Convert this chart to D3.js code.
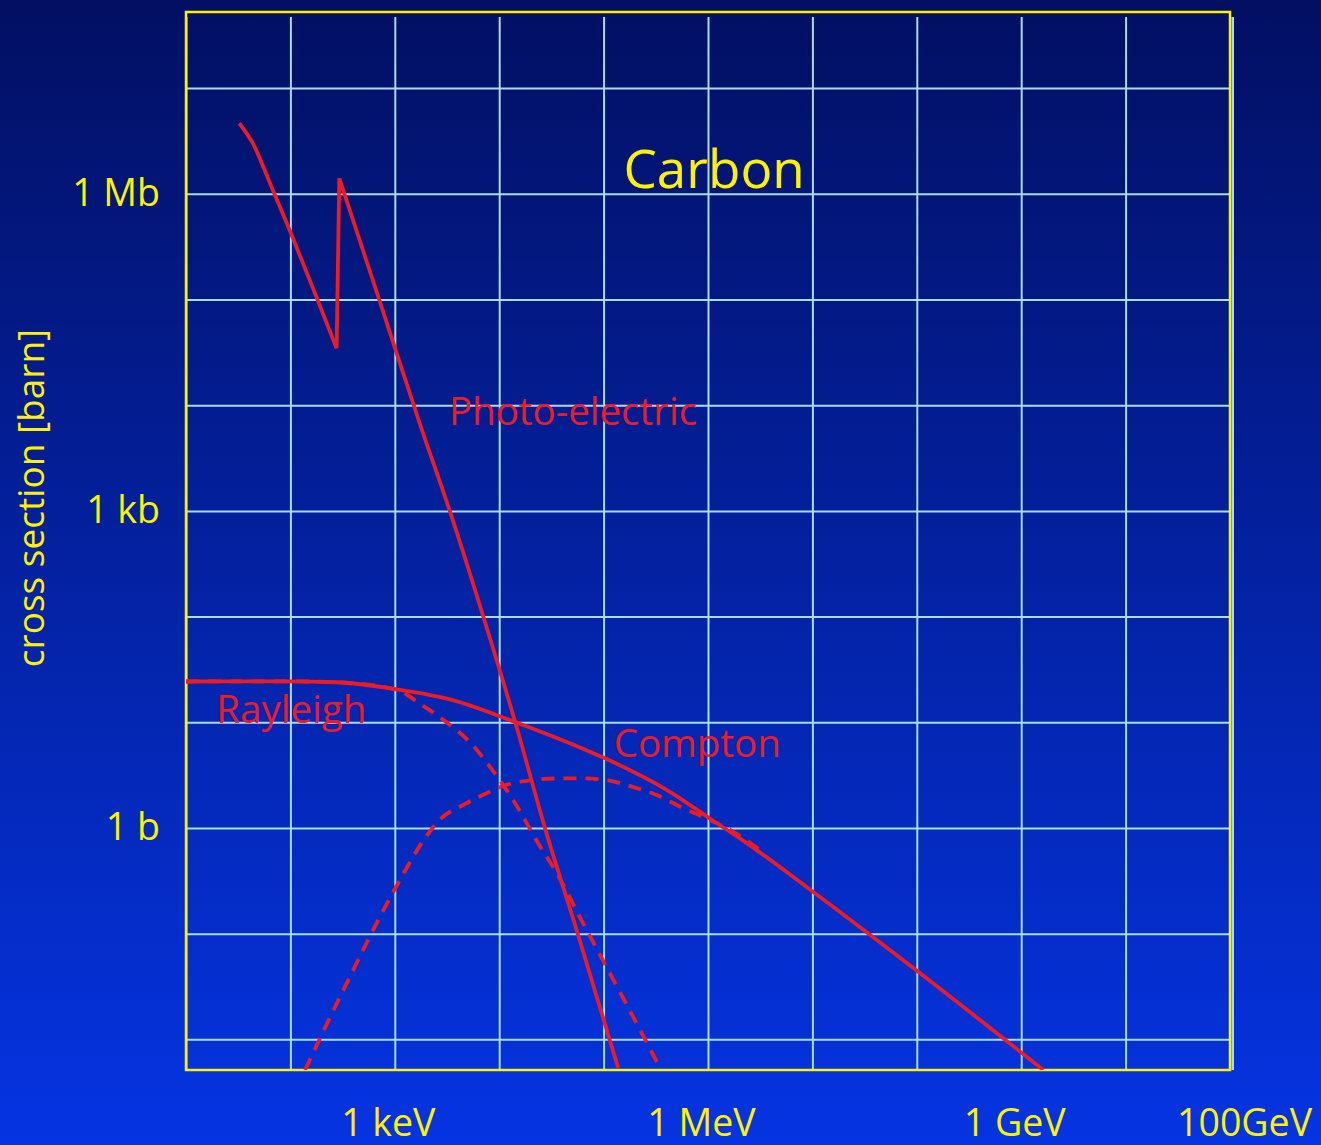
<!DOCTYPE html>
<html lang="en">
<meta charset="utf-8">
<title>Carbon photon cross sections</title>
<style>
  body { margin: 0; background: #0322a8; }
  svg { display: block; }
  text { font-family: "Open Sans", "Noto Sans", sans-serif; }
</style>
<body>
<div id="chart"></div>
<script src="https://cdn.jsdelivr.net/npm/d3@7"></script>
<script>
// photon energy in eV, cross section in barn
var energyPhoto = [32.4, 43.6, 63.8, 101, 176, 277, 294, 711, 1740, 3380, 7050, 14200, 27500, 55200, 138000];
var sigmaPhoto  = [4.65e6, 3.01e6, 1.26e6, 4.26e5, 1.08e5, 3.45e4, 1.40e6, 9.89e4, 6640, 982, 99.5, 10.1, 0.991, 0.108, 0.00536];

var energyTotal = [10, 90.8, 274, 1030, 3590, 14000, 67800, 103000, 402000, 1.04e6, 2.35e6, 1.02e7, 1.07e8, 1.63e9];
var sigmaTotal  = [24.3, 24.4, 23.9, 20.5, 16.2, 10.1, 5.46, 4.56, 2.29, 1.23, 0.719, 0.248, 0.0424, 0.00513];

var energyRayleigh = [10, 90.8, 274, 1030, 1720, 3090, 5180, 9310, 13600, 23700, 35000, 68900, 129000, 347000];
var sigmaRayleigh  = [24.3, 24.4, 23.9, 20.5, 15.1, 10.1, 6.55, 3.17, 1.84, 0.714, 0.383, 0.108, 0.0341, 0.00537];

var energyCompton = [138, 321, 1030, 1990, 2670, 4470, 7480, 11600, 20900, 38200, 67800, 107000, 179000, 323000, 540000, 1.04e6, 1.75e6, 3.15e6];
var sigmaCompton  = [0.00513, 0.0292, 0.278, 0.826, 1.19, 1.64, 2.12, 2.55, 2.84, 2.94, 2.94, 2.84, 2.49, 2.05, 1.59, 1.19, 0.920, 0.618];

var xTickValues = [1e3, 1e6, 1e9, 1e11];
var xTickLabels = ["1 keV", "1 MeV", "1 GeV", "100GeV"];
var yTickValues = [1e6, 1e3, 1];
var yTickLabels = ["1 Mb", "1 kb", "1 b"];

var labelNames  = ["Photo-electric", "Rayleigh", "Compton"];
var labelEnergy = [3300, 19.5, 125000];
var labelSigma  = [6490, 9.9, 4.66];

var W = 1321, H = 1145;
var plotLeft = 186, plotRight = 1230, plotTop = 12, plotBottom = 1070;
var red = "#ec1c24", yellow = "#fff200", gridColor = "#a9dcf0";

var svg = d3.select("#chart").append("svg").attr("width", W).attr("height", H);

// background gradient, dark navy on top to bright blue below
var defs = svg.append("defs");
var grad = defs.append("linearGradient")
  .attr("id", "bg").attr("x1", 0).attr("y1", 0).attr("x2", 0).attr("y2", 1);
grad.append("stop").attr("offset", "0%").attr("stop-color", "#020f62");
grad.append("stop").attr("offset", "100%").attr("stop-color", "#0534e2");
defs.append("clipPath").attr("id", "plotClip")
  .append("rect").attr("x", plotLeft).attr("y", plotTop)
  .attr("width", plotRight - plotLeft).attr("height", plotBottom - plotTop);
svg.append("rect").attr("width", W).attr("height", H).attr("fill", "url(#bg)");

var x = d3.scaleLog().domain([1e1, 1e11]).range([plotLeft, plotRight]);
var y = d3.scaleLog().domain([Math.pow(10, -2.29), Math.pow(10, 7.72)]).range([plotBottom, plotTop]);

// grid, one line per decade
var xDecades = d3.range(1, 12).map(function(p) { return Math.pow(10, p); });
var yDecades = d3.range(-2, 8).map(function(p) { return Math.pow(10, p); });

var gx = svg.append("g").attr("transform", "translate(0," + plotBottom + ")")
  .call(d3.axisBottom(x).tickValues(xDecades).tickSize(-(plotBottom - plotTop - 5)).tickFormat(""));
var gy = svg.append("g").attr("transform", "translate(" + plotLeft + ",0)")
  .call(d3.axisLeft(y).tickValues(yDecades).tickSize(-(plotRight - plotLeft)).tickFormat(""));
[gx, gy].forEach(function(g) {
  g.select(".domain").remove();
  g.selectAll(".tick line").attr("stroke", gridColor).attr("stroke-width", 2);
});
svg.append("line").attr("x1", plotRight + 3).attr("x2", plotRight + 3)
  .attr("y1", plotTop + 5).attr("y2", plotBottom)
  .attr("stroke", gridColor).attr("stroke-width", 2);

// frame
svg.append("rect").attr("x", plotLeft).attr("y", plotTop)
  .attr("width", plotRight - plotLeft).attr("height", plotBottom - plotTop)
  .attr("fill", "none").attr("stroke", yellow).attr("stroke-width", 2.5);

function toPoints(es, ss) { return es.map(function(e, i) { return [e, ss[i]]; }); }

var smooth = d3.line().x(function(d) { return x(d[0]); }).y(function(d) { return y(d[1]); }).curve(d3.curveMonotoneX);
var straight = d3.line().x(function(d) { return x(d[0]); }).y(function(d) { return y(d[1]); });

var curves = svg.append("g").attr("clip-path", "url(#plotClip)")
  .attr("fill", "none").attr("stroke", red).attr("stroke-width", 3.8)
  .attr("stroke-linejoin", "round");

curves.append("path").attr("d", smooth(toPoints(energyRayleigh, sigmaRayleigh))).attr("stroke-dasharray", "13,9");
curves.append("path").attr("d", smooth(toPoints(energyCompton, sigmaCompton))).attr("stroke-dasharray", "13,9");
curves.append("path").attr("d", smooth(toPoints(energyTotal, sigmaTotal)));

// photo-electric: smooth on both sides of the K edge, straight jump at the edge
var photo = toPoints(energyPhoto, sigmaPhoto);
var edge = photo.findIndex(function(d, i) { return i > 0 && d[1] > photo[i - 1][1]; });
curves.append("path").attr("d", smooth(photo.slice(0, edge)));
curves.append("path").attr("d", straight(photo.slice(edge - 1, edge + 1)));
curves.append("path").attr("d", smooth(photo.slice(edge)));

// axis labels
var ax = svg.append("g")
  .attr("transform", "translate(0," + (plotBottom + 66) + ")")
  .call(d3.axisBottom(x).tickValues(xTickValues).tickSize(0)
    .tickFormat(function(d, i) { return xTickLabels[i]; }));
ax.select(".domain").remove();
ax.selectAll(".tick text").attr("fill", yellow).attr("font-size", 37.5).attr("y", 0).attr("dy", 0)
  .attr("font-family", "'Open Sans', sans-serif")
  .attr("dx", function(d, i) { return i === xTickLabels.length - 1 ? 14 : -7; });

var ay = svg.append("g")
  .attr("transform", "translate(" + (plotLeft - 26) + ",0)")
  .call(d3.axisLeft(y).tickValues(yTickValues).tickSize(0)
    .tickFormat(function(d, i) { return yTickLabels[i]; }));
ay.select(".domain").remove();
ay.selectAll(".tick text").attr("fill", yellow).attr("font-size", 37.5).attr("x", 0).attr("dy", "0.3em")
  .attr("font-family", "'Open Sans', sans-serif");

svg.append("text")
  .attr("transform", "translate(44,498) rotate(-90)")
  .attr("text-anchor", "middle").attr("fill", yellow).attr("font-size", 37)
  .text("cross section [barn]");

svg.append("text")
  .attr("x", x(1.55e5)).attr("y", y(1.13e6))
  .attr("fill", yellow).attr("font-size", 53)
  .text("Carbon");

svg.selectAll(".series-label").data(labelNames).enter().append("text")
  .attr("class", "series-label")
  .attr("x", function(d, i) { return x(labelEnergy[i]); })
  .attr("y", function(d, i) { return y(labelSigma[i]); })
  .attr("fill", red).attr("font-size", 38.5)
  .text(function(d) { return d; });
</script>
</body>
</html>
